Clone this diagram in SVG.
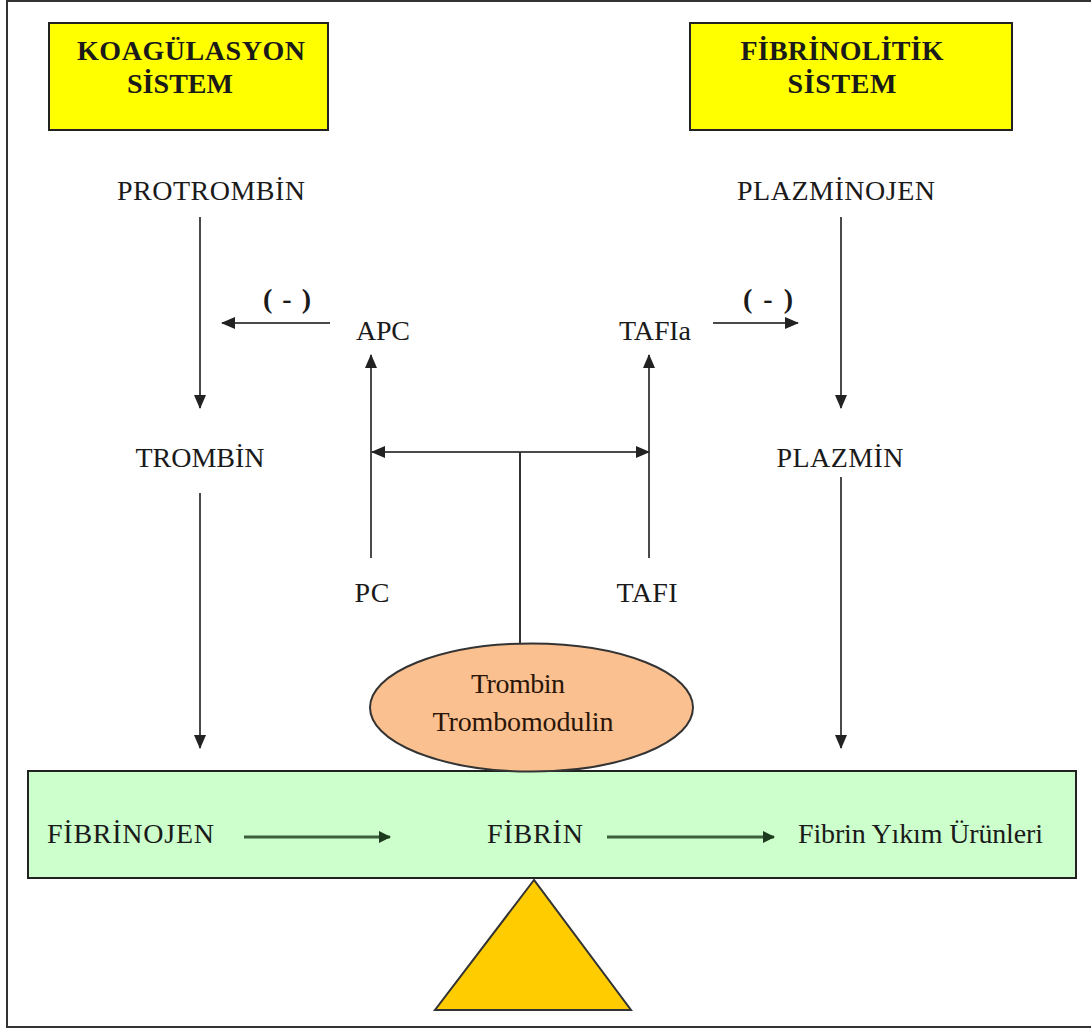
<svg xmlns="http://www.w3.org/2000/svg" width="1091" height="1028" viewBox="0 0 1091 1028">
<defs>
<style>
.t{font-family:"Liberation Serif","Times New Roman",serif;font-size:28px;fill:#1a1a1a;text-anchor:middle}
.b{font-weight:bold}
.s{text-anchor:start}
.ln{stroke:#4a4a4a;stroke-width:2;fill:none}
.gl{stroke:#3b5e3b;stroke-width:3;fill:none}
</style>
<marker id="ah" markerUnits="userSpaceOnUse" markerWidth="14" markerHeight="12" refX="13" refY="6" orient="auto">
<path d="M0,0 L14,6 L0,12 Z" fill="#222"/>
</marker>
<marker id="ahs" markerUnits="userSpaceOnUse" markerWidth="14" markerHeight="12" refX="1" refY="6" orient="auto">
<path d="M14,0 L0,6 L14,12 Z" fill="#222"/>
</marker>
<marker id="ahg" markerUnits="userSpaceOnUse" markerWidth="12" markerHeight="12" refX="11" refY="6" orient="auto">
<path d="M0,0 L12,6 L0,12 Z" fill="#1e3a1e"/>
</marker>
</defs>
<rect x="0" y="0" width="1091" height="1028" fill="#fff"/>
<rect id="frame" x="7" y="1" width="1110" height="1026" fill="none" stroke="#333" stroke-width="2"/>

<g id="koagulasyon">
<rect x="49" y="23" width="279" height="107" fill="#ffff00" stroke="#222" stroke-width="2"/>
<text class="t b" x="191" y="60" textLength="228">KOAGÜLASYON</text>
<text class="t b" x="180" y="93" textLength="106">SİSTEM</text>
</g>
<g id="fibrinolitik">
<rect x="690" y="23" width="322" height="107" fill="#ffff00" stroke="#222" stroke-width="2"/>
<text class="t b" x="842" y="60" textLength="203">FİBRİNOLİTİK</text>
<text class="t b" x="842" y="93" textLength="109">SİSTEM</text>
</g>

<g id="protrombin"><text class="t" x="211" y="200" textLength="188">PROTROMBİN</text></g>
<g id="trombin"><text class="t" x="200" y="467" textLength="129">TROMBİN</text></g>
<g id="plazminojen"><text class="t" x="836" y="200" textLength="198">PLAZMİNOJEN</text></g>
<g id="plazmin"><text class="t" x="840" y="467" textLength="127">PLAZMİN</text></g>
<g id="apc"><text class="t" x="383" y="340" textLength="54">APC</text></g>
<g id="tafia"><text class="t" x="655" y="340" textLength="72">TAFIa</text></g>
<g id="pc"><text class="t" x="372" y="602" textLength="35">PC</text></g>
<g id="tafi"><text class="t" x="647" y="602" textLength="61">TAFI</text></g>
<g id="neg1"><text class="t b" x="287" y="308" textLength="48">( - )</text></g>
<g id="neg2"><text class="t b" x="768" y="308" textLength="50">( - )</text></g>

<g id="connectors">
<line class="ln" x1="200" y1="217" x2="200" y2="408" marker-end="url(#ah)"/>
<line class="ln" x1="200" y1="493" x2="200" y2="748" marker-end="url(#ah)"/>
<line class="ln" x1="841" y1="217" x2="841" y2="408" marker-end="url(#ah)"/>
<line class="ln" x1="841" y1="477" x2="841" y2="748" marker-end="url(#ah)"/>
<line class="ln" x1="330" y1="323" x2="222" y2="323" marker-end="url(#ah)"/>
<line class="ln" x1="713" y1="323" x2="798" y2="323" marker-end="url(#ah)"/>
<line class="ln" x1="371" y1="558" x2="371" y2="355" marker-end="url(#ah)"/>
<line class="ln" x1="649" y1="558" x2="649" y2="355" marker-end="url(#ah)"/>
<line class="ln" x1="372" y1="452" x2="649" y2="452" marker-start="url(#ahs)" marker-end="url(#ah)"/>
<line x1="520" y1="452" x2="520" y2="645" stroke="#333" stroke-width="2"/>
</g>

<g id="fibrin-bar">
<rect x="28" y="771" width="1048" height="107" fill="#ccffcc" stroke="#222" stroke-width="2"/>
<text class="t s" x="47" y="843" textLength="167">FİBRİNOJEN</text>
<text class="t s" x="487" y="843" textLength="96">FİBRİN</text>
<text class="t s" x="798" y="843" textLength="245">Fibrin Yıkım Ürünleri</text>
</g>
<g id="bar-connectors">
<line class="gl" x1="244" y1="837" x2="390" y2="837" marker-end="url(#ahg)"/>
<line class="gl" x1="607" y1="837" x2="774" y2="837" marker-end="url(#ahg)"/>
</g>

<g id="trombomodulin">
<ellipse cx="531.5" cy="707.5" rx="161.5" ry="64" fill="#fac090" stroke="#333" stroke-width="2"/>
<text class="t" x="518" y="693" textLength="94" style="fill:#2a1508">Trombin</text>
<text class="t" x="523" y="731" textLength="181" style="fill:#2a1508">Trombomodulin</text>
</g>

<g id="fulcrum">
<polygon points="534,880 435,1010 631,1010" fill="#ffcc00" stroke="#333" stroke-width="2"/>
</g>
</svg>
